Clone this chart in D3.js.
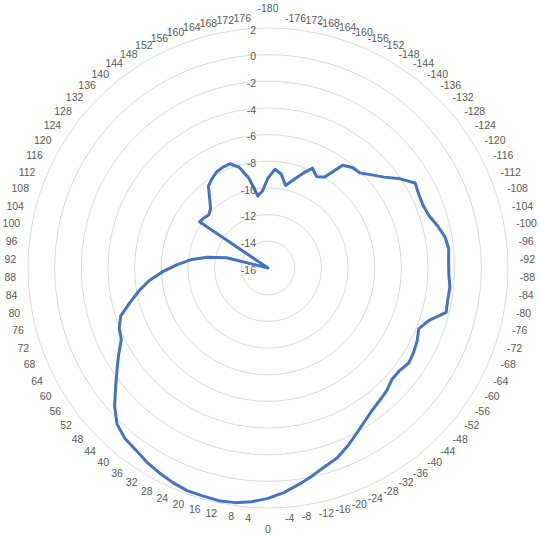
<!DOCTYPE html>
<html lang="en">
<head>
<meta charset="UTF-8">
<title>Radar chart</title>
<script src="https://d3js.org/d3.v7.min.js"></script>
<style>
  html, body { margin: 0; padding: 0; background: #fff; }
  svg text { font-family: "Liberation Sans", Arial, sans-serif; font-size: 10.5px; fill: #595959; }
</style>
</head>
<body>
<svg id="chart" width="540" height="537"></svg>
<script>
// category labels, clockwise from the top
const categories = [
  -180, -176, -172, -168, -164, -160, -156, -152, -148, -144,
  -140, -136, -132, -128, -124, -120, -116, -112, -108, -104,
  -100, -96, -92, -88, -84, -80, -76, -72, -68, -64,
  -60, -56, -52, -48, -44, -40, -36, -32, -28, -24,
  -20, -16, -12, -8, -4, 0, 4, 8, 12, 16,
  20, 24, 28, 32, 36, 40, 44, 48, 52, 56,
  60, 64, 68, 72, 76, 80, 84, 88, 92, 96,
  100, 104, 108, 112, 116, 120, 124, 128, 132, 136,
  140, 144, 148, 152, 156, 160, 164, 168, 172, 176
];

// one value per category
const values = [
  -9.25, -8.58, -8.88, -9.67, -9.13, -8.47, -7.80, -8.24, -7.96, -6.48,
  -6.16, -6.08, -5.56, -4.93, -4.04, -3.26, -3.41, -3.46, -3.30, -2.90,
  -2.52, -2.37, -2.45, -2.43, -2.28, -2.31, -2.23, -3.30, -3.81, -3.55,
  -3.38, -3.26, -3.49, -3.50, -3.20, -3.00, -2.76, -2.38, -1.90, -1.36,
  -0.84, -0.51, -0.06, 0.41, 0.89, 1.28, 1.57, 1.77, 1.84, 1.78,
  1.77, 1.60, 1.39, 1.16, 0.87, 0.69, 0.30, -0.52, -1.50, -2.34,
  -3.07, -3.76, -3.96, -4.39, -5.34, -6.18, -7.05, -8.10, -9.15, -10.15,
  -11.36, -12.80, -16.00, -16.00, -16.00, -16.00, -9.80, -9.90, -10.03, -9.80,
  -9.19, -8.40, -8.09, -7.82, -7.72, -7.68, -8.14, -9.12, -10.55, -10.20
];

// value axis ticks
const radialTicks = [-16, -14, -12, -10, -8, -6, -4, -2, 0, 2];

const cx = 268, cy = 268, outerR = 240;

const svg = d3.select("#chart");
const g = svg.append("g").attr("transform", `translate(${cx},${cy})`);

const angle = d3.scaleLinear()
    .domain([0, categories.length])
    .range([0, 2 * Math.PI]);

const r = d3.scaleLinear()
    .domain([radialTicks[0], radialTicks[radialTicks.length - 1]])
    .range([0, outerR]);

// gridlines (one polygon per tick, 90 sides so it looks round)
radialTicks.slice(1).forEach(t => {
    g.append("path")
        .datum(categories)
        .attr("d", d3.lineRadial()
            .angle((d, i) => angle(i))
            .radius(() => r(t))
            .curve(d3.curveLinearClosed))
        .attr("fill", "none")
        .attr("stroke", "#d9d9d9")
        .attr("stroke-width", 1);
});

// the series
g.append("path")
    .datum(values)
    .attr("d", d3.lineRadial()
        .angle((d, i) => angle(i))
        .radius(d => r(Math.max(d, radialTicks[0])))
        .curve(d3.curveLinearClosed))
    .attr("fill", "none")
    .attr("stroke", "#4472c4")
    .attr("stroke-width", 3)
    .attr("stroke-linejoin", "round");

// category labels round the outside
g.selectAll(".cat")
    .data(categories)
    .enter()
    .append("text")
    .attr("class", "cat")
    .each(function(d, i) {
        const a = angle(i);
        const s = Math.sin(a), c = Math.cos(a);
        let ra = outerR + 4 + 8 * s * s;
        let anchor = "middle";
        if (s > 1e-6) anchor = "start";
        else if (s < -1e-6) anchor = "end";
        else ra += 10;
        d3.select(this)
            .attr("x", ra * s)
            .attr("y", -ra * c - c * 6.5)
            .attr("text-anchor", anchor)
            .attr("dominant-baseline", "central")
            .text(d);
    });

// value axis labels
g.selectAll(".tick")
    .data(radialTicks)
    .enter()
    .append("text")
    .attr("class", "tick")
    .attr("x", -12)
    .attr("y", d => -r(d) + 1.5)
    .attr("text-anchor", "end")
    .attr("dominant-baseline", "central")
    .text(d => d);
</script>
</body>
</html>
